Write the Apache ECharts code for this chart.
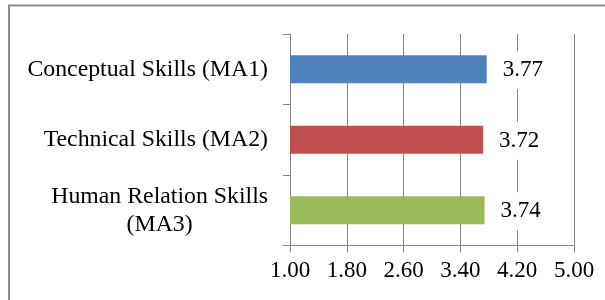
<!DOCTYPE html>
<html>
<head>
<meta charset="utf-8">
<script src="https://cdn.jsdelivr.net/npm/echarts@6/dist/echarts.min.js"></script>
<style>
  html, body { margin: 0; padding: 0; background: #fff; }
  #chart { width: 605px; height: 300px; }
</style>
</head>
<body>
<div id="chart"></div>
<script>
// data
const categories = ['Conceptual Skills (MA1)', 'Technical Skills (MA2)', 'Human Relation Skills\n(MA3)']
const values = [3.77, 3.72, 3.74]
const barColors = ['#4F81BD', '#C0504D', '#9BBB59']
const tickLabels = ['1.00', '1.80', '2.60', '3.40', '4.20', '5.00']

const font = 'Liberation Serif'
const gray = '#868686'

const myChart = echarts.init(document.getElementById('chart'))
myChart.setOption({
  animation: false,
  grid: {
    left: 290,
    right: 31,
    top: 34,
    bottom: 54.5
  },
  // outer frame of the figure
  graphic: [
    {
      type: 'polyline',
      shape: { points: [[9, 300], [9, 5.5], [605, 5.5]] },
      style: { stroke: '#8c8c8c', lineWidth: 2, fill: null }
    }
  ],
  xAxis: {
    type: 'value',
    min: 1,
    max: 5,
    interval: 0.8,
    axisLine: { show: true, lineStyle: { color: gray } },
    axisTick: { show: true, length: 7, lineStyle: { color: gray } },
    splitLine: { show: true, lineStyle: { color: gray, width: 1 } },
    axisLabel: {
      margin: 14,
      color: '#000',
      fontFamily: font,
      fontSize: 23,
      formatter: (v) => {
        const i = Math.round((v - 1) / 0.8)
        return tickLabels[i] !== undefined ? tickLabels[i] : v.toFixed(2)
      }
    }
  },
  yAxis: {
    type: 'category',
    inverse: true,
    data: categories,
    axisLine: { show: true, lineStyle: { color: gray } },
    axisTick: { show: true, length: 7, lineStyle: { color: gray } },
    axisLabel: {
      margin: 22,
      color: '#000',
      fontFamily: font,
      fontSize: 23.8,
      lineHeight: 28,
      align: 'right',
      formatter: (v) => v.split('\n').map(s => '{c|' + s + '}').join('\n'),
      rich: {
        c: { align: 'center', fontFamily: font, fontSize: 23.8, lineHeight: 28, color: '#000' }
      }
    }
  },
  series: [
    {
      type: 'bar',
      barWidth: 28,
      data: values.map((v, i) => ({ value: v, itemStyle: { color: barColors[i] } })),
      label: {
        show: true,
        position: 'right',
        distance: 8,
        offset: [0, 1],
        color: '#000',
        fontFamily: font,
        fontSize: 23,
        lineHeight: 22,
        backgroundColor: '#fff',
        padding: [8, 8],
        formatter: (p) => p.value.toFixed(2)
      }
    }
  ]
})
window.onresize = function() {
  myChart.resize()
}
</script>
</body>
</html>
